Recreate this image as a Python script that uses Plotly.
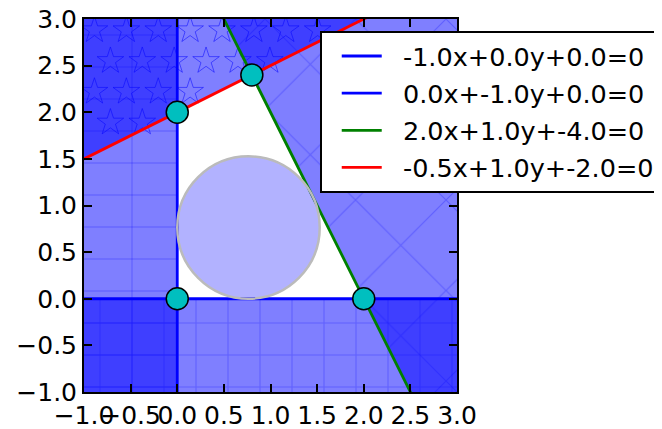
import itertools
import numpy as np
import plotly.graph_objects as go

# Constraints: a*x + b*y + c <= 0 (feasible side)
coef_a = [-1.0, 0.0, 2.0, -0.5]
coef_b = [0.0, -1.0, 1.0, 1.0]
coef_c = [0.0, 0.0, -4.0, -2.0]
line_colors = ["blue", "blue", "green", "red"]
hatch_kinds = ["-", "+", "x", "*"]
x_range = [-1.0, 3.0]
y_range = [-1.0, 3.0]
tick_values = [-1.0, -0.5, 0.0, 0.5, 1.0, 1.5, 2.0, 2.5, 3.0]

FILL = "rgba(0,0,255,0.5)"
HATCH = "rgba(0,0,255,0.5)"


def clip_halfplane(poly, a, b, c):
    """Keep the part of the polygon where a*x + b*y + c >= 0 (infeasible side)."""
    out = []
    n = len(poly)
    for i in range(n):
        p, q = poly[i], poly[(i + 1) % n]
        fp = a * p[0] + b * p[1] + c
        fq = a * q[0] + b * q[1] + c
        if fp >= 0:
            out.append(p)
        if (fp >= 0) != (fq >= 0):
            t = fp / (fp - fq)
            out.append((p[0] + t * (q[0] - p[0]), p[1] + t * (q[1] - p[1])))
    return out


box = [(x_range[0], y_range[0]), (x_range[1], y_range[0]),
       (x_range[1], y_range[1]), (x_range[0], y_range[1])]

fig = go.Figure()

# shaded infeasible half-planes
for i, (a, b, c) in enumerate(zip(coef_a, coef_b, coef_c)):
    poly = clip_halfplane(box, a, b, c)
    xs = [p[0] for p in poly] + [poly[0][0]]
    ys = [p[1] for p in poly] + [poly[0][1]]
    kind = hatch_kinds[i]
    if kind in ("-", "+"):
        size = 32
        sol = 0.035 if kind == "-" else 0.065
    elif kind == "x":
        size = 64
        sol = 0.035
    else:
        kind, size, sol = "", 8, 0.3
    fp = dict(shape=kind, size=size, solidity=sol, fillmode="overlay",
              bgcolor=FILL, fgcolor=HATCH)
    fig.add_trace(go.Scatter(x=xs, y=ys, mode="lines", fill="toself",
                             fillcolor=FILL, line=dict(width=0),
                             fillpattern=fp if kind else None,
                             hoverinfo="skip", showlegend=False))
    if hatch_kinds[i] == "-":
        fig.add_trace(go.Scatter(x=xs, y=ys, mode="lines", fill="toself",
                                 fillcolor="rgba(0,0,0,0)", line=dict(width=0),
                                 fillpattern=dict(shape="|", size=96, solidity=0.012,
                                                  fillmode="overlay",
                                                  bgcolor="rgba(0,0,0,0)",
                                                  fgcolor=HATCH),
                                 hoverinfo="skip", showlegend=False))
    if hatch_kinds[i] == "*":
        # star hatch drawn as open star markers on a staggered grid
        step_x, step_y = 0.342, 0.33
        sx, sy = [], []
        row = 0
        yy = y_range[1] - 0.12
        while yy > y_range[0]:
            xx = x_range[0] + 0.112 + (step_x / 2 if row % 2 else 0.0)
            while xx < x_range[1]:
                if a * xx + b * yy + c > 0.04:
                    sx.append(xx)
                    sy.append(yy)
                xx += step_x
            yy -= step_y
            row += 1
        fig.add_trace(go.Scatter(x=sx, y=sy, mode="markers",
                                 marker=dict(symbol="star-open", size=20,
                                             color=HATCH, line=dict(width=1, color=HATCH)),
                                 hoverinfo="skip", showlegend=False))

# constraint lines
for i, (a, b, c) in enumerate(zip(coef_a, coef_b, coef_c)):
    if abs(b) > 1e-12:
        lx = np.array(x_range)
        ly = -(a * lx + c) / b
    else:
        lx = np.array([-c / a, -c / a])
        ly = np.array(y_range)
    label = "\u00a0" * 2 + "{:.1f}x+{:.1f}y+{:.1f}=0".format(a, b, c)
    fig.add_trace(go.Scatter(x=lx, y=ly, mode="lines", name=label,
                             line=dict(color=line_colors[i], width=2.8),
                             legendgroup=str(i), hoverinfo="skip"))

# vertices of feasible region
vx, vy = [], []
for i, j in itertools.combinations(range(len(coef_a)), 2):
    M = np.array([[coef_a[i], coef_b[i]], [coef_a[j], coef_b[j]]])
    if abs(np.linalg.det(M)) < 1e-12:
        continue
    p = np.linalg.solve(M, -np.array([coef_c[i], coef_c[j]]))
    if all(coef_a[k] * p[0] + coef_b[k] * p[1] + coef_c[k] <= 1e-9 for k in range(len(coef_a))):
        vx.append(p[0])
        vy.append(p[1])
fig.add_trace(go.Scatter(x=vx, y=vy, mode="markers",
                         marker=dict(size=22, color="#00bfbf", line=dict(color="black", width=1.5)),
                         hoverinfo="skip", showlegend=False))

# Chebyshev centre (largest inscribed circle)
best = None
for combo in itertools.combinations(range(len(coef_a)), 3):
    M = np.array([[coef_a[k], coef_b[k], np.hypot(coef_a[k], coef_b[k])] for k in combo])
    if abs(np.linalg.det(M)) < 1e-12:
        continue
    sol = np.linalg.solve(M, -np.array([coef_c[k] for k in combo]))
    ok = all(coef_a[k] * sol[0] + coef_b[k] * sol[1] + np.hypot(coef_a[k], coef_b[k]) * sol[2]
             + coef_c[k] <= 1e-9 for k in range(len(coef_a)))
    if ok and sol[2] > 0 and (best is None or sol[2] > best[2]):
        best = sol
cx, cy, r = best
fig.add_shape(type="circle", xref="x", yref="y", x0=cx - r, x1=cx + r, y0=cy - r, y1=cy + r,
              fillcolor="rgba(0,0,255,0.3)", line=dict(color="#bbbbbb", width=2.5), layer="above")

tick_text = ["{:.1f}".format(v).replace("-", "\u2212") for v in tick_values]
axis_common = dict(tickvals=tick_values, ticktext=tick_text, ticks="inside", ticklen=8,
                   tickwidth=1.5, tickcolor="black", showline=True, linewidth=2,
                   linecolor="black", mirror="ticks", showgrid=False, zeroline=False,
                   tickangle=0, tickfont=dict(size=25, color="black"))
fig.update_xaxes(range=x_range, **axis_common)
fig.update_yaxes(range=y_range, **axis_common)

fig.update_layout(
    width=662, height=421,
    margin=dict(l=75.5, r=212.5, t=10.5, b=36.5, pad=0, autoexpand=False),
    plot_bgcolor="white", paper_bgcolor="white",
    font=dict(family="DejaVu Sans", size=25, color="black"),
    showlegend=True,
    legend=dict(x=0.632, y=0.968, xanchor="left", yanchor="top", bgcolor="white",
                bordercolor="black", borderwidth=2, font=dict(size=25.5),
                tracegroupgap=1, indentation=15, itemwidth=40),
)

fig.write_html("out.html")
